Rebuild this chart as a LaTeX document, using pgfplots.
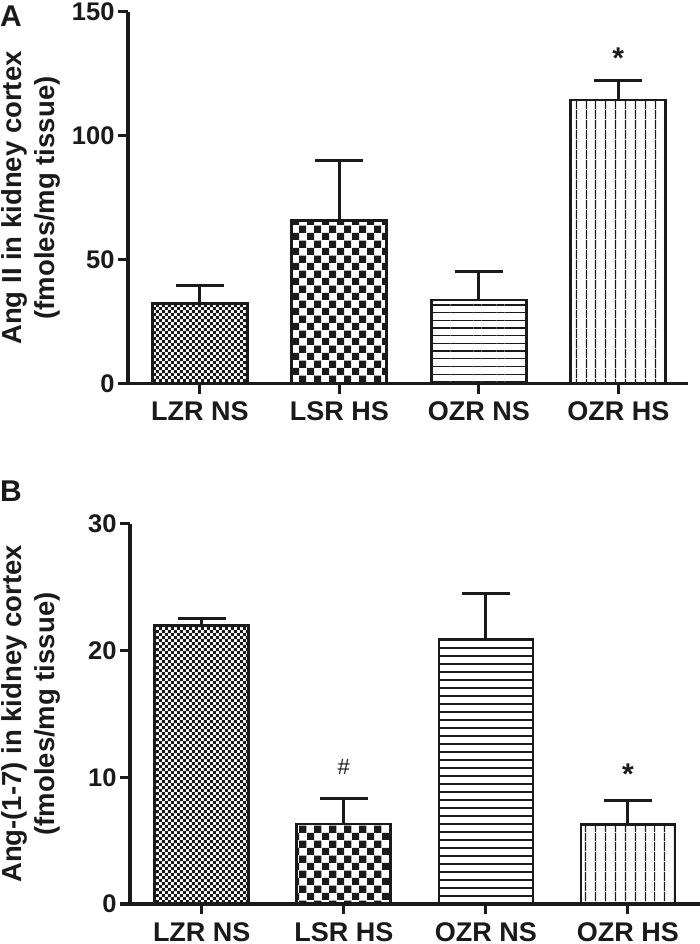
\documentclass[border=0pt]{standalone}
\usepackage{fontspec}
\setmainfont{Liberation Sans}
\usepackage{pgfplots}
\pgfplotsset{compat=1.18}
\usetikzlibrary{patterns,patterns.meta}

\pgfdeclarepatternformonly{finecheck}{\pgfpointorigin}{\pgfpoint{6.4bp}{6.4bp}}{\pgfpoint{6.4bp}{6.4bp}}{%
  \pgfpathrectangle{\pgfpointorigin}{\pgfpoint{3.2bp}{3.2bp}}%
  \pgfpathrectangle{\pgfpoint{3.2bp}{3.2bp}}{\pgfpoint{3.2bp}{3.2bp}}%
  \pgfusepath{fill}}
\pgfdeclarepatternformonly{coarsecheck}{\pgfpointorigin}{\pgfpoint{14.6bp}{14.6bp}}{\pgfpoint{14.6bp}{14.6bp}}{%
  \pgfpathrectangle{\pgfpointorigin}{\pgfpoint{7.3bp}{7.3bp}}%
  \pgfpathrectangle{\pgfpoint{7.3bp}{7.3bp}}{\pgfpoint{7.3bp}{7.3bp}}%
  \pgfusepath{fill}}

\definecolor{ink}{HTML}{1A1A1A}

\pgfplotsset{
  panel/.style={
    scale only axis,
    axis x line=bottom, axis y line=left,
    axis line style={line width=3bp, -, ink},
    tick align=outside,
    major tick length=10bp,
    every tick/.style={line width=3bp, ink},
    xtick={0,1,2,3},
    xticklabels={LZR NS, LSR HS, OZR NS, OZR HS},
    /pgf/number format/assume math mode=true,
    yticklabel style={font=\fontsize{25.5bp}{25.5bp}\selectfont\bfseries, text=ink},
    xticklabel style={font=\fontsize{27bp}{27bp}\selectfont\bfseries, text=ink},
    ylabel style={font=\fontsize{27.5bp}{33bp}\selectfont\bfseries, align=center, text=ink,
      anchor=south, inner sep=0pt},
    ymin=0, clip=false,
  },
  barA/.style={ybar, bar shift=0pt, draw=ink, line width=2.8bp,
    error bars/y dir=plus, error bars/y explicit, error bars/error mark=|,
    error bars/error bar style={line width=3bp, ink, solid},
    error bars/error mark options={line width=3bp, ink, mark size=24bp, solid}},
}

\begin{document}
\begin{tikzpicture}
\useasboundingbox (0,0) rectangle (700bp,944bp);

\begin{axis}[panel,
  at={(128bp,560bp)}, anchor=south west,
  width=560bp, height=372bp,
  xmin=-0.516, xmax=3.5,
  ymax=150, ytick={0,50,100,150},
  ylabel={Ang II in kidney cortex\\(fmoles/mg tissue)},
  ylabel style={at={([xshift=-67bp]axis description cs:0,0.5)}},
  xticklabel style={yshift=-4bp},
]
\addplot[barA, bar width=95bp, pattern=finecheck, pattern color=ink] coordinates {(0,32.3) +- (0,7.3)};
\addplot[barA, bar width=95bp, pattern=coarsecheck, pattern color=ink] coordinates {(1,65.9) +- (0,24.3)};
\addplot[barA, bar width=95bp, pattern={Lines[angle=0,distance=7.7bp,line width=1.3bp]}, pattern color=ink] coordinates {(2,33.9) +- (0,11.4)};
\addplot[barA, bar width=95bp, pattern={Lines[angle=90,distance=9.5bp,line width=1.3bp]}, pattern color=ink] coordinates {(3,114.5) +- (0,7.7)};
\node[font=\fontsize{30bp}{30bp}\selectfont\bfseries, text=ink, anchor=base, inner sep=0pt] at (axis cs:3,127.1) {*};
\end{axis}

\begin{axis}[panel,
  at={(130bp,40bp)}, anchor=south west,
  width=570bp, height=380bp,
  xmin=-0.505, xmax=3.507,
  ymax=30, ytick={0,10,20,30},
  ylabel={Ang-(1-7) in kidney cortex\\(fmoles/mg tissue)},
  ylabel style={at={([xshift=-69bp]axis description cs:0,0.5)}},
  xticklabel style={yshift=-5bp},
]
\addplot[barA, bar width=94bp, pattern=finecheck, pattern color=ink] coordinates {(0,22.0) +- (0,0.5)};
\addplot[barA, bar width=94bp, pattern=coarsecheck, pattern color=ink] coordinates {(1,6.32) +- (0,2.03)};
\addplot[barA, bar width=94bp, pattern={Lines[angle=0,distance=8bp,line width=1.3bp]}, pattern color=ink] coordinates {(2,20.9) +- (0,3.6)};
\addplot[barA, bar width=94bp, pattern={Lines[angle=90,distance=9.5bp,line width=1.3bp]}, pattern color=ink] coordinates {(3,6.3) +- (0,1.86)};
\node[font=\fontsize{22bp}{22bp}\selectfont, text=ink, anchor=base, inner sep=0pt] at (axis cs:1,10.19) {\#};
\node[font=\fontsize{30bp}{30bp}\selectfont\bfseries, text=ink, anchor=base, inner sep=0pt] at (axis cs:3,9.4) {*};
\end{axis}

\node[font=\fontsize{30bp}{30bp}\selectfont\bfseries, text=ink, anchor=base west, inner sep=0pt] at (0bp,917bp) {A};
\node[font=\fontsize{30bp}{30bp}\selectfont\bfseries, text=ink, anchor=base west, inner sep=0pt] at (0bp,442bp) {B};
\end{tikzpicture}
\end{document}
